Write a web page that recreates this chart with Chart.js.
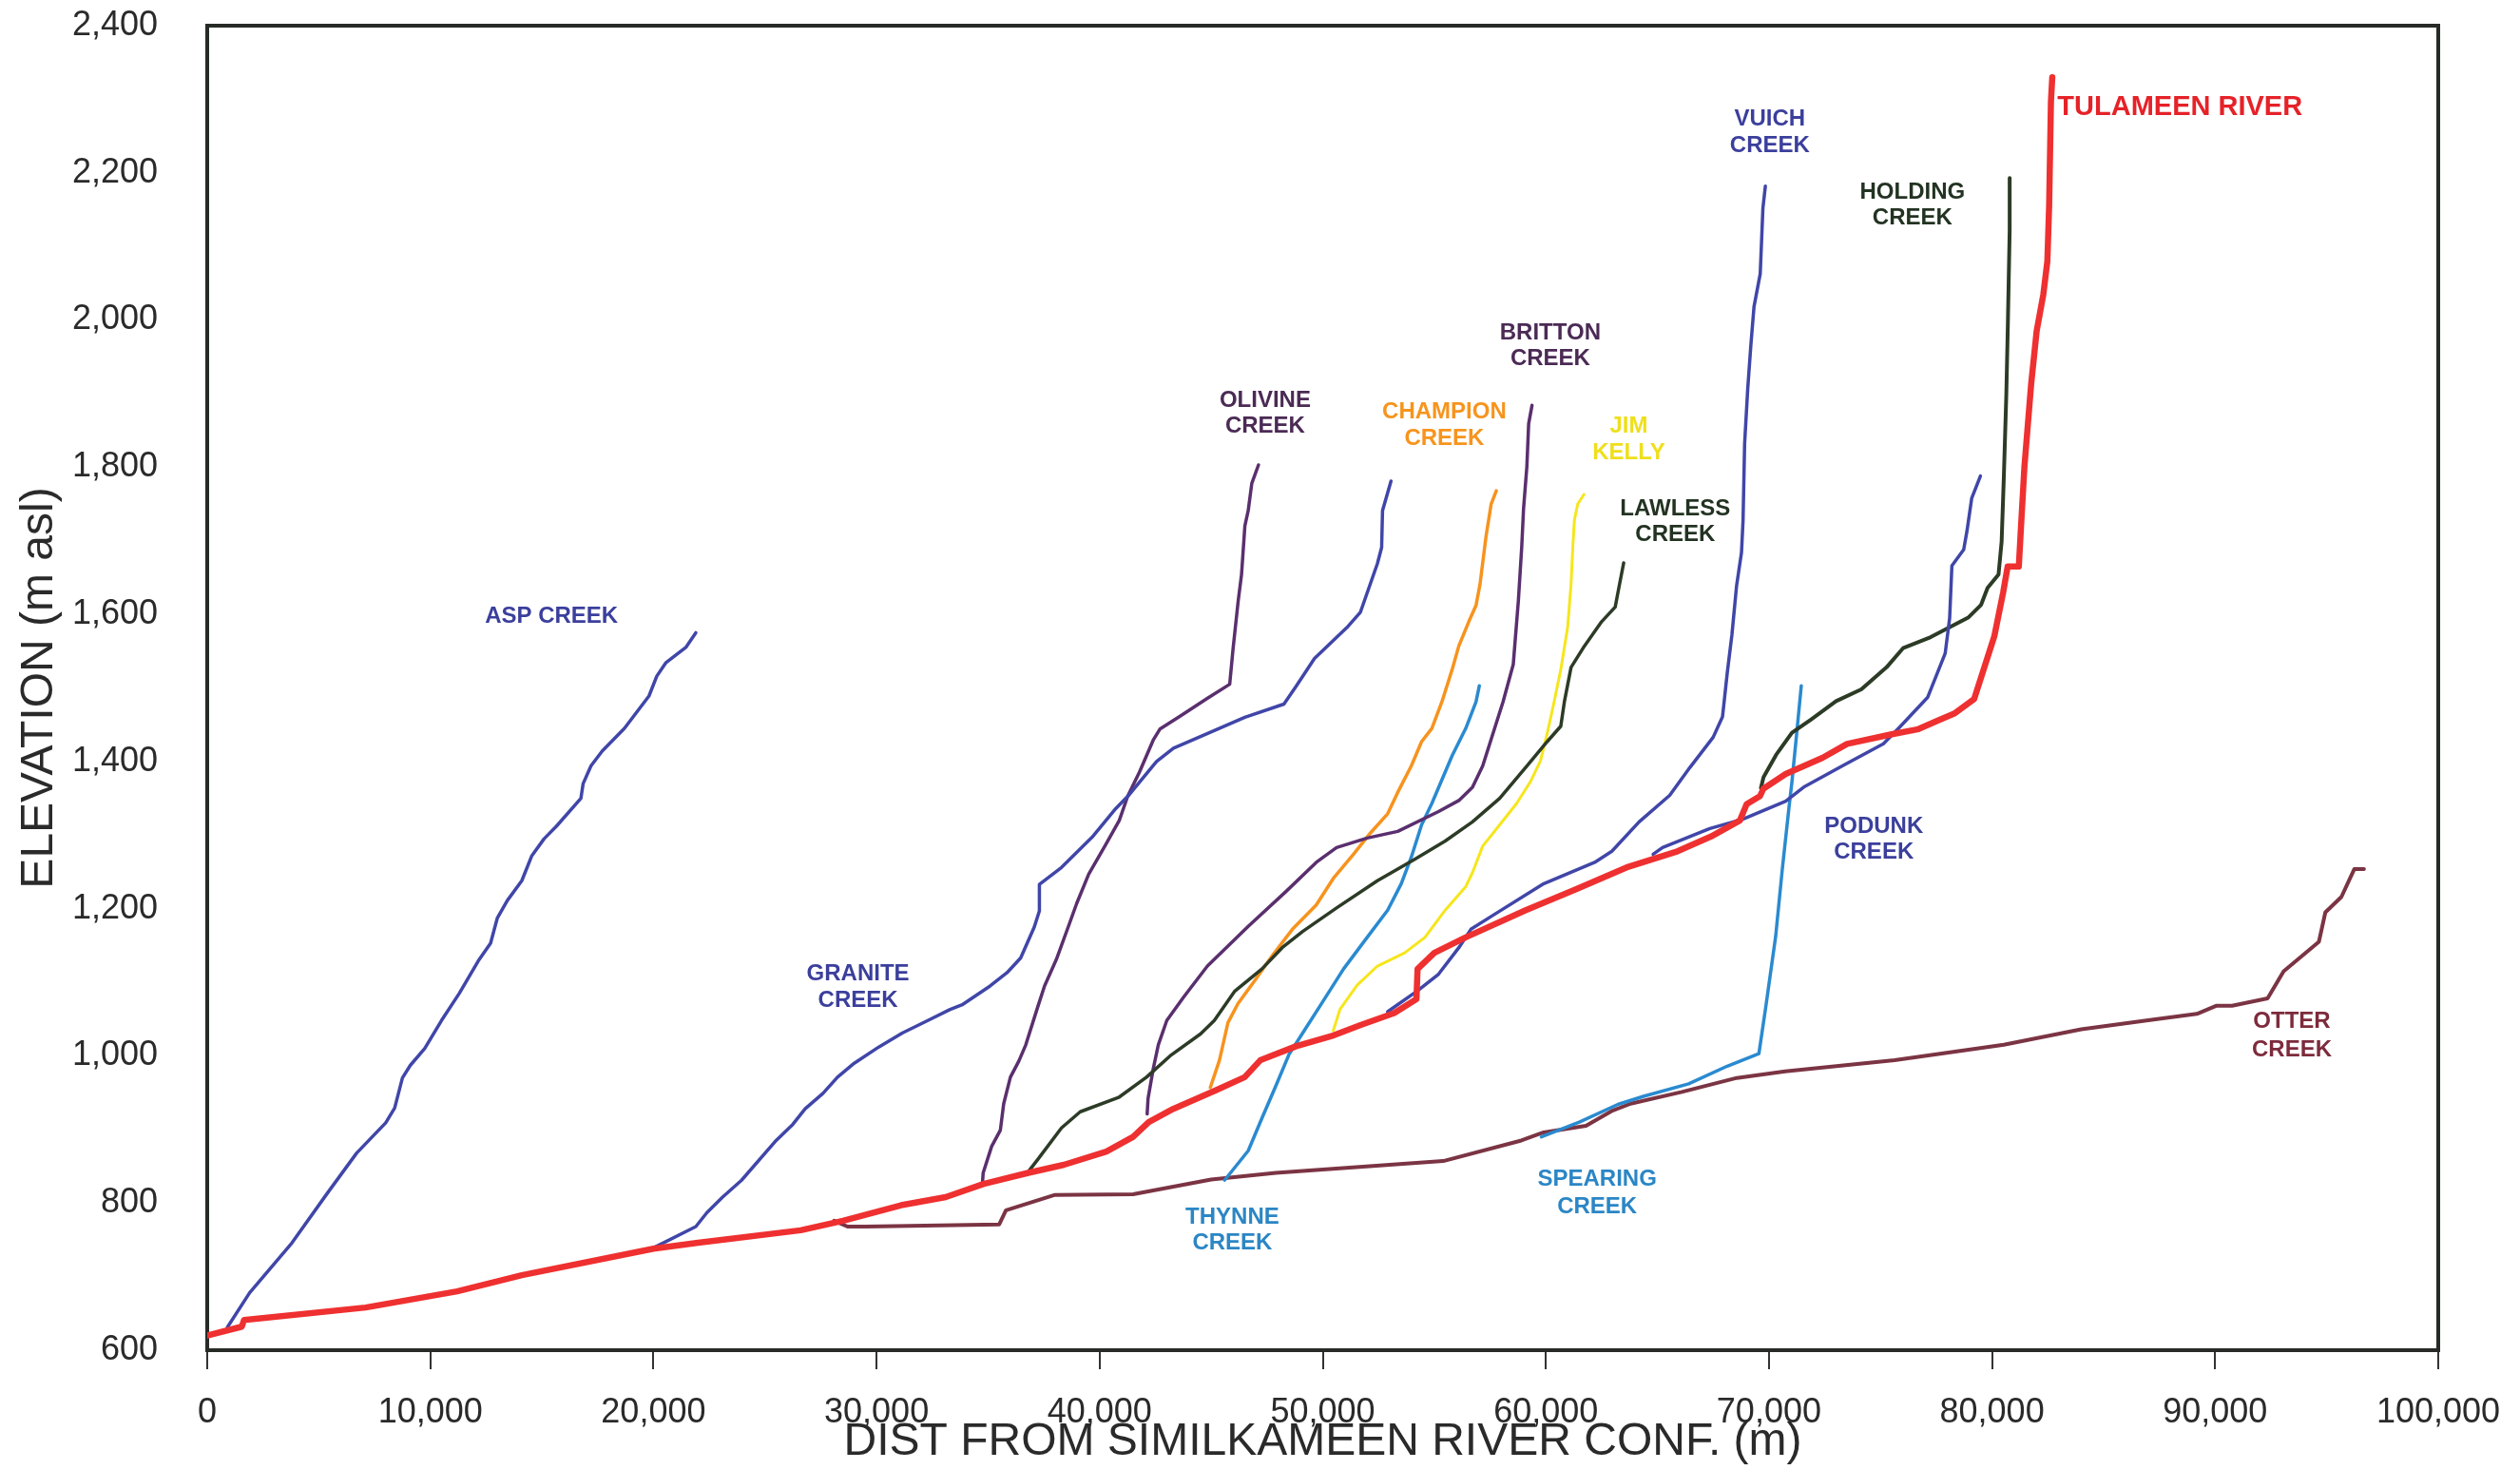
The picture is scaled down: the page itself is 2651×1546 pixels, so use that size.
<!DOCTYPE html>
<html>
<head>
<meta charset="utf-8">
<script src="https://cdn.jsdelivr.net/npm/chart.js@4/dist/chart.umd.min.js"></script>
<style>
  html, body { margin: 0; padding: 0; background: #ffffff; }
  #wrap { width: 2651px; height: 1546px; }
</style>
</head>
<body>
<div id="wrap"><canvas id="c" width="2651" height="1546"></canvas></div>
<script>
// ---------------- DATA (distance m, elevation m asl) ----------------
const X_TICKS = [0, 10000, 20000, 30000, 40000, 50000, 60000, 70000, 80000, 90000, 100000];
const Y_TICKS = [600, 800, 1000, 1200, 1400, 1600, 1800, 2000, 2200, 2400];

const TULAMEEN_RIVER = [[0,620],[1550,632],[1650,641],[7100,658],[11200,680],[14100,702],[20000,738],[22000,746],[26600,763],[28500,776],[31100,797],[33100,808],[34800,826],[36800,841],[38400,852],[40300,870],[41500,890],[42200,910],[43300,928],[45200,953],[46500,971],[47200,994],[48800,1013],[50500,1028],[51700,1042],[53200,1058],[54200,1077],[54250,1118],[55000,1140],[56400,1161],[59100,1198],[61400,1227],[63700,1257],[65900,1278],[67400,1298],[68700,1320],[69000,1342],[69600,1353],[69750,1363],[70750,1383],[72400,1405],[73500,1424],[75500,1437],[76700,1444],[77600,1456],[78300,1465],[79200,1485],[80100,1570],[80500,1630],[80700,1665],[81200,1665],[81300,1720],[81450,1800],[81750,1912],[82000,1985],[82300,2035],[82480,2080],[82560,2156],[82640,2297],[82700,2330]];
const ASP_CREEK = [[900,631],[1900,678],[3800,746],[5400,814],[6700,868],[8000,909],[8400,929],[8750,970],[9100,987],[9750,1010],[10500,1048],[11300,1085],[12150,1129],[12700,1153],[13000,1187],[13450,1211],[14100,1238],[14550,1272],[15100,1295],[15650,1312],[16750,1350],[16850,1370],[17200,1394],[17700,1414],[18700,1445],[19800,1489],[20150,1516],[20550,1534],[21450,1555],[21900,1575]];
const GRANITE_CREEK = [[20000,739],[21900,768],[22400,787],[23100,808],[23950,831],[25500,885],[26250,907],[26800,928],[27600,949],[28250,971],[29000,990],[30100,1012],[31150,1031],[32300,1048],[33300,1063],[33870,1070],[35090,1095],[35850,1113],[36460,1133],[37070,1175],[37300,1197],[37300,1233],[38290,1256],[39660,1297],[40720,1336],[41330,1355],[42550,1400],[43310,1418],[44840,1438],[46510,1460],[48260,1478],[48800,1502],[49630,1540],[51080,1582],[51690,1603],[52450,1669],[52640,1691],[52680,1741],[53060,1781]];
const OLIVINE_CREEK = [[34750,828],[34780,841],[35160,877],[35550,899],[35700,935],[36000,971],[36380,993],[36690,1015],[37220,1066],[37530,1095],[38060,1131],[38590,1175],[38970,1207],[39510,1247],[40270,1287],[40880,1320],[41260,1353],[41790,1386],[42400,1429],[42700,1444],[43620,1462],[44840,1486],[45830,1505],[45980,1553],[46210,1618],[46360,1654],[46510,1720],[46660,1741],[46820,1778],[47120,1803]];
const LAWLESS_CREEK = [[36840,844],[37220,859],[38290,902],[39130,924],[40880,944],[42100,971],[43160,1000],[44530,1030],[45140,1048],[46060,1088],[47270,1118],[48180,1147],[49100,1169],[50620,1201],[52450,1238],[54120,1267],[55490,1292],[56710,1318],[57930,1350],[59150,1394],[60060,1427],[60670,1448],[60830,1481],[61130,1528],[61730,1557],[62500,1590],[63110,1610],[63260,1634],[63490,1670]];
const BRITTON_CREEK = [[42130,921],[42170,942],[42400,982],[42630,1015],[43010,1048],[43770,1080],[44830,1122],[46660,1176],[48340,1223],[49710,1263],[50620,1283],[51990,1296],[53360,1305],[55190,1332],[56100,1347],[56710,1365],[57170,1394],[57630,1438],[58080,1481],[58540,1532],[58770,1619],[58920,1692],[59000,1743],[59150,1801],[59230,1859],[59380,1884]];
const CHAMPION_CREEK = [[44960,957],[45370,994],[45750,1045],[46200,1071],[46970,1103],[47730,1136],[48640,1172],[49710,1205],[50470,1241],[51380,1274],[52140,1303],[52910,1329],[53360,1358],[53970,1394],[54430,1427],[54890,1445],[55340,1481],[55800,1525],[56100,1557],[56560,1591],[56870,1612],[57050,1641],[57320,1706],[57550,1750],[57780,1768]];
const THYNNE_CREEK = [[45600,831],[46660,871],[47270,915],[47880,958],[48490,1002],[49100,1031],[50010,1074],[50930,1118],[51990,1161],[52910,1198],[53520,1234],[53970,1270],[54430,1314],[54890,1343],[55800,1408],[56410,1445],[56870,1481],[57020,1503]];
const JIM_KELLY = [[50470,1034],[50770,1063],[51540,1096],[52450,1122],[53670,1140],[54580,1161],[55490,1198],[56410,1230],[56710,1249],[57170,1285],[57930,1314],[58690,1343],[59300,1372],[59760,1401],[60060,1438],[60370,1481],[60670,1525],[60980,1583],[61130,1641],[61210,1692],[61280,1728],[61430,1750],[61710,1763]];
const VUICH_CREEK = [[52910,1060],[54270,1089],[55190,1111],[56100,1147],[56640,1172],[57630,1191],[59910,1234],[62190,1263],[62960,1278],[64180,1318],[65550,1354],[66460,1392],[67500,1433],[67920,1461],[68130,1520],[68340,1572],[68550,1639],[68770,1684],[68840,1728],[68910,1832],[69050,1907],[69190,1966],[69330,2018],[69610,2063],[69730,2152],[69840,2182]];
const PODUNK_CREEK = [[64810,1274],[65230,1283],[67350,1309],[68770,1321],[70750,1346],[71600,1366],[73290,1394],[75130,1424],[75840,1446],[77110,1487],[77900,1547],[78100,1595],[78200,1666],[78730,1688],[78880,1714],[79090,1758],[79480,1788]];
const HOLDING_CREEK = [[69640,1364],[69760,1379],[70320,1409],[71030,1439],[71880,1457],[73010,1482],[74140,1498],[75270,1528],[76010,1554],[77250,1569],[78950,1596],[79510,1613],[79800,1636],[80290,1654],[80430,1699],[80530,1788],[80640,1899],[80710,1996],[80790,2122],[80790,2193]];
const SPEARING_CREEK = [[59800,890],[61500,910],[63230,934],[64380,945],[66400,962],[68130,986],[69550,1003],[69850,1065],[70300,1162],[70600,1254],[70900,1338],[71030,1372],[71250,1440],[71450,1503]];
const OTTER_CREEK = [[28100,776],[28700,768],[29500,768],[35500,771],[35800,790],[38000,811],[41500,812],[45000,832],[47900,841],[55400,857],[58900,885],[59900,896],[61800,905],[62950,925],[63800,935],[66100,951],[68560,970],[70730,979],[75630,994],[80530,1015],[84000,1036],[87160,1049],[89180,1057],[90040,1068],[90760,1068],[92350,1078],[93070,1115],[94650,1155],[94940,1195],[95660,1216],[96240,1254],[96670,1254]];

// ---------------- STYLE / LAYOUT ----------------
const C_BLUE = '#4046a8', C_PURPLE = '#5a2f6e', C_GREEN = '#2c3b26', C_ORANGE = '#f7931e',
      C_YELLOW = '#f6e61c', C_LBLUE = '#2a8ad0', C_MAROON = '#7b3443', C_RED = '#ef3030';

const SERIES = [
  { name: 'Tulameen River', data: TULAMEEN_RIVER, color: C_RED, width: 6.5 },
  { name: 'Asp Creek', data: ASP_CREEK, color: C_BLUE, width: 3.5 },
  { name: 'Granite Creek', data: GRANITE_CREEK, color: C_BLUE, width: 3.5 },
  { name: 'Olivine Creek', data: OLIVINE_CREEK, color: C_PURPLE, width: 3.5 },
  { name: 'Lawless Creek', data: LAWLESS_CREEK, color: C_GREEN, width: 3.5 },
  { name: 'Britton Creek', data: BRITTON_CREEK, color: C_PURPLE, width: 3.5 },
  { name: 'Champion Creek', data: CHAMPION_CREEK, color: C_ORANGE, width: 3.5 },
  { name: 'Thynne Creek', data: THYNNE_CREEK, color: C_LBLUE, width: 3.5 },
  { name: 'Jim Kelly', data: JIM_KELLY, color: C_YELLOW, width: 3 },
  { name: 'Vuich Creek', data: VUICH_CREEK, color: C_BLUE, width: 3.5 },
  { name: 'Podunk Creek', data: PODUNK_CREEK, color: C_BLUE, width: 3.5 },
  { name: 'Holding Creek', data: HOLDING_CREEK, color: C_GREEN, width: 4 },
  { name: 'Spearing Creek', data: SPEARING_CREEK, color: C_LBLUE, width: 3.5 },
  { name: 'Otter Creek', data: OTTER_CREEK, color: C_MAROON, width: 4 }
];

// label anchors (data coordinates of the text centre of each line)
const LABELS = [
  { lines: ['ASP CREEK'], x: 15430, y: [1597], color: '#3b3f9c' },
  { lines: ['GRANITE', 'CREEK'], x: 29170, y: [1111, 1075], color: '#3b3f9c' },
  { lines: ['OLIVINE', 'CREEK'], x: 47420, y: [1890, 1855], color: '#4b2a55' },
  { lines: ['CHAMPION', 'CREEK'], x: 55450, y: [1875, 1839], color: '#f7941d' },
  { lines: ['BRITTON', 'CREEK'], x: 60200, y: [1982, 1947], color: '#4b2a55' },
  { lines: ['JIM', 'KELLY'], x: 63720, y: [1855, 1819], color: '#efdf1b' },
  { lines: ['LAWLESS', 'CREEK'], x: 65800, y: [1743, 1708], color: '#233322' },
  { lines: ['VUICH', 'CREEK'], x: 70040, y: [2273, 2237], color: '#3b3f9c' },
  { lines: ['HOLDING', 'CREEK'], x: 76430, y: [2174, 2139], color: '#233322' },
  { lines: ['PODUNK', 'CREEK'], x: 74700, y: [1312, 1277], color: '#3b3f9c' },
  { lines: ['OTTER', 'CREEK'], x: 93440, y: [1046, 1008], color: '#7d2b3c' },
  { lines: ['SPEARING', 'CREEK'], x: 62300, y: [832, 795], color: '#2b86c5' },
  { lines: ['THYNNE', 'CREEK'], x: 45950, y: [781, 745], color: '#2b86c5' },
  { lines: ['TULAMEEN RIVER'], x: 82930, y: [2289], color: '#e52228', big: true, left: true }
];

const FONT = '"Liberation Sans", Arial, Helvetica, sans-serif';

const bgPlugin = {
  id: 'bg',
  beforeDraw(chart) {
    const ctx = chart.ctx;
    ctx.save();
    ctx.fillStyle = '#ffffff';
    ctx.fillRect(0, 0, chart.width, chart.height);
    ctx.restore();
  },
  beforeDatasetsDraw(chart) {
    const a = chart.chartArea, ctx = chart.ctx;
    ctx.save();
    ctx.strokeStyle = '#262b26';
    ctx.lineWidth = 4;
    ctx.strokeRect(a.left, a.top, a.right - a.left, a.bottom - a.top);
    ctx.restore();
  },
  afterDatasetsDraw(chart) {
    const ctx = chart.ctx, sx = chart.scales.x, sy = chart.scales.y;
    ctx.save();
    ctx.textBaseline = 'middle';
    LABELS.forEach(l => {
      ctx.fillStyle = l.color;
      ctx.font = 'bold ' + (l.big ? 29 : 24) + 'px ' + FONT;
      ctx.textAlign = l.left ? 'left' : 'center';
      l.lines.forEach((t, i) => {
        ctx.fillText(t, sx.getPixelForValue(l.x), sy.getPixelForValue(l.y[i]));
      });
    });
    ctx.restore();
  }
};

const datasets = SERIES.map(s => ({
  label: s.name,
  data: s.data.map(p => ({ x: p[0], y: p[1] })),
  showLine: true,
  borderColor: s.color,
  backgroundColor: s.color,
  borderWidth: s.width,
  pointRadius: 0,
  pointHoverRadius: 0,
  tension: 0,
  fill: false,
  borderJoinStyle: 'round',
  borderCapStyle: 'round'
}));

new Chart(document.getElementById('c'), {
  type: 'scatter',
  data: { datasets },
  options: {
    responsive: false,
    animation: false,
    devicePixelRatio: 1,
    events: [],
    layout: { padding: { top: 27, right: 86, left: 0, bottom: 0 } },
    plugins: { legend: { display: false }, tooltip: { enabled: false } },
    scales: {
      x: {
        type: 'linear',
        min: X_TICKS[0],
        max: X_TICKS[X_TICKS.length - 1],
        afterBuildTicks: s => { s.ticks = X_TICKS.map(v => ({ value: v })); },
        afterFit: s => { s.height = 126; s.paddingLeft = 0; s.paddingRight = 0; },
        ticks: {
          font: { size: 36, family: FONT },
          color: '#2a2a2a',
          padding: 24,
          maxRotation: 0,
          autoSkip: false,
          callback: v => v.toLocaleString('en-US')
        },
        grid: { drawOnChartArea: false, drawTicks: true, tickLength: 20, color: '#333333', lineWidth: 2 },
        border: { display: false },
        title: {
          display: true,
          text: 'DIST FROM SIMILKAMEEN RIVER CONF. (m)',
          font: { size: 48, family: FONT },
          color: '#2a2a2a',
          padding: { top: 0, bottom: 0 }
        }
      },
      y: {
        type: 'linear',
        min: Y_TICKS[0],
        max: Y_TICKS[Y_TICKS.length - 1],
        afterBuildTicks: s => { s.ticks = Y_TICKS.map(v => ({ value: v })); },
        afterFit: s => { s.width = 218; s.paddingTop = 0; s.paddingBottom = 0; },
        ticks: {
          font: { size: 36, family: FONT },
          color: '#2a2a2a',
          padding: 52,
          autoSkip: false,
          callback: v => v.toLocaleString('en-US')
        },
        grid: { display: false, drawTicks: false },
        border: { display: false },
        title: {
          display: true,
          text: 'ELEVATION (m asl)',
          font: { size: 48, family: FONT },
          color: '#2a2a2a',
          padding: { top: 13, bottom: 0 }
        }
      }
    }
  },
  plugins: [bgPlugin]
});
</script>
</body>
</html>
